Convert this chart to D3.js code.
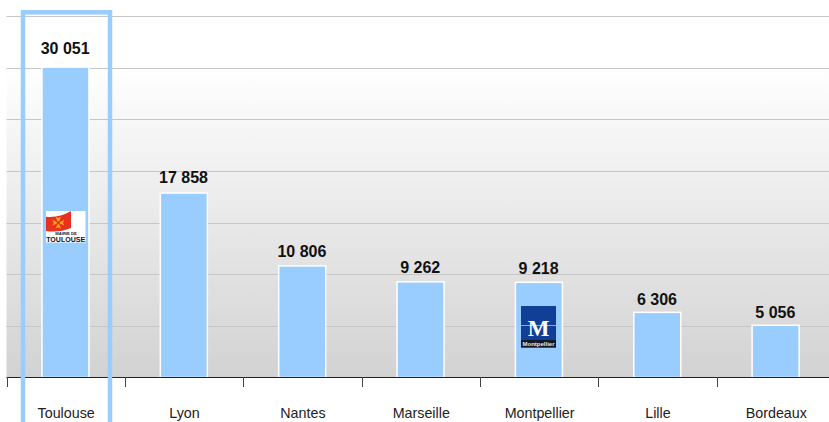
<!DOCTYPE html>
<html><head><meta charset="utf-8">
<script src="https://cdn.jsdelivr.net/npm/d3@7"></script>
<style>html,body{margin:0;padding:0;background:#fff;overflow:hidden}svg{display:block}text{font-family:"Liberation Sans",Arial,sans-serif}</style>
</head><body><svg id="c" width="829" height="422"></svg>
<script>
const categories=["Toulouse","Lyon","Nantes","Marseille","Montpellier","Lille","Bordeaux"];
const values=[30051,17858,10806,9262,9218,6306,5056];
const labels=["30 051","17 858","10 806","9 262","9 218","6 306","5 056"];
const gridValues=[0,5000,10000,15000,20000,25000,30000,35000];
const highlighted="Toulouse";
(function(){
const W=829,H=422,plotLeft=6.5,plotRight=835,plotTop=16,plotBottom=377.5;
const svg=d3.select("#c");
const x=d3.scaleBand().domain(categories).range([plotLeft,plotRight]);
const y=d3.scaleLinear().domain([0,35000]).range([plotBottom,plotTop]);
const gapScale=d3.scaleLinear().domain([5000,30000]).range([7.5,13]);
const g=svg.append("defs").append("linearGradient").attr("id","bg").attr("x1",0).attr("y1",0).attr("x2",0).attr("y2",1);
g.append("stop").attr("offset","0%").attr("stop-color","#ffffff");
g.append("stop").attr("offset","14%").attr("stop-color","#ffffff");
g.append("stop").attr("offset","100%").attr("stop-color","#d2d2d2");
svg.append("rect").attr("x",plotLeft).attr("y",plotTop).attr("width",W-plotLeft).attr("height",plotBottom-plotTop).attr("fill","url(#bg)");
svg.append("g").selectAll("line").data(gridValues.slice(1)).join("line")
 .attr("x1",plotLeft).attr("x2",W).attr("y1",d=>Math.round(y(d))+.5).attr("y2",d=>Math.round(y(d))+.5)
 .attr("stroke","#c6c6c6");
const bw=47;
svg.append("g").selectAll("rect").data(categories).join("rect")
 .attr("x",d=>x(d)+x.bandwidth()/2-bw/2-.2).attr("width",bw)
 .attr("y",(d,i)=>y(values[i])).attr("height",(d,i)=>plotBottom-y(values[i]))
 .attr("fill","#99ccff").attr("stroke","#ffffff").attr("stroke-width",1.5);
svg.append("g").selectAll("text").data(categories).join("text")
 .attr("x",d=>x(d)+x.bandwidth()/2-.5).attr("y",(d,i)=>y(values[i])-gapScale(values[i]))
 .attr("text-anchor","middle").attr("font-size",16).attr("font-weight",700).attr("fill","#111")
 .text((d,i)=>labels[i]);
svg.append("line").attr("x1",plotLeft).attr("x2",W).attr("y1",377.5).attr("y2",377.5).attr("stroke","#222");
svg.append("g").selectAll("line").data(categories).join("line")
 .attr("x1",d=>Math.round(x(d))+.5).attr("x2",d=>Math.round(x(d))+.5).attr("y1",377).attr("y2",387).attr("stroke","#444");
svg.append("g").selectAll("text").data(categories).join("text")
 .attr("x",d=>x(d)+x.bandwidth()/2+.5).attr("y",418)
 .attr("text-anchor","middle").attr("font-size",14.3).attr("fill","#222").text(d=>d);
svg.append("rect").attr("x",x(highlighted)+16.5).attr("y",12.3).attr("width",87).attr("height",H+10)
 .attr("fill","none").attr("stroke","#99ccff").attr("stroke-width",4.5);
const t=svg.append("g").attr("transform","translate(46,211)");
t.append("rect").attr("width",39.5).attr("height",31.5).attr("fill","#fff");
t.append("path").attr("d","M0 5.7 Q13 7 25 0 L25 17 Q13 22 0 20 Z").attr("fill","#e8321e");
t.append("g").attr("transform","translate(12.3,11.7)").selectAll("path").data(d3.range(4)).join("path")
 .attr("transform",d=>`rotate(${d*90})`)
 .attr("d","M-.8 -1.5 L.8 -1.5 L2.8 -6 L0 -4.6 L-2.8 -6 Z").attr("fill","#f7a81b");
t.append("text").attr("x",20).attr("y",23.6).attr("text-anchor","middle").attr("font-size",4).attr("font-weight",700).attr("fill","#222").attr("textLength",21.5).attr("lengthAdjust","spacingAndGlyphs").text("MAIRIE DE");
t.append("text").attr("x",19.7).attr("y",30.5).attr("text-anchor","middle").attr("font-size",6.6).attr("font-weight",700).attr("fill","#111").attr("textLength",39).attr("lengthAdjust","spacingAndGlyphs").text("TOULOUSE");
const m=svg.append("g").attr("transform","translate(521,306)");
m.append("rect").attr("width",35).attr("height",41.5).attr("fill","#123f96");
m.append("rect").attr("y",34).attr("width",35).attr("height",7.5).attr("fill","#10182a");
m.append("line").attr("x1",0).attr("x2",35).attr("y1",19.5).attr("y2",19.5).attr("stroke","#c9d4ea").attr("stroke-width",.7);
m.append("text").attr("x",17.7).attr("y",29.7).attr("text-anchor","middle").attr("font-size",23).attr("font-weight",700).attr("fill","#fff").style("font-family","'Liberation Serif'").text("M");
m.append("text").attr("x",17.5).attr("y",40).attr("text-anchor","middle").attr("font-size",6).attr("font-weight",700).attr("fill","#e8e8e8").attr("textLength",32).attr("lengthAdjust","spacingAndGlyphs").text("Montpellier");
})();
</script></body></html>
